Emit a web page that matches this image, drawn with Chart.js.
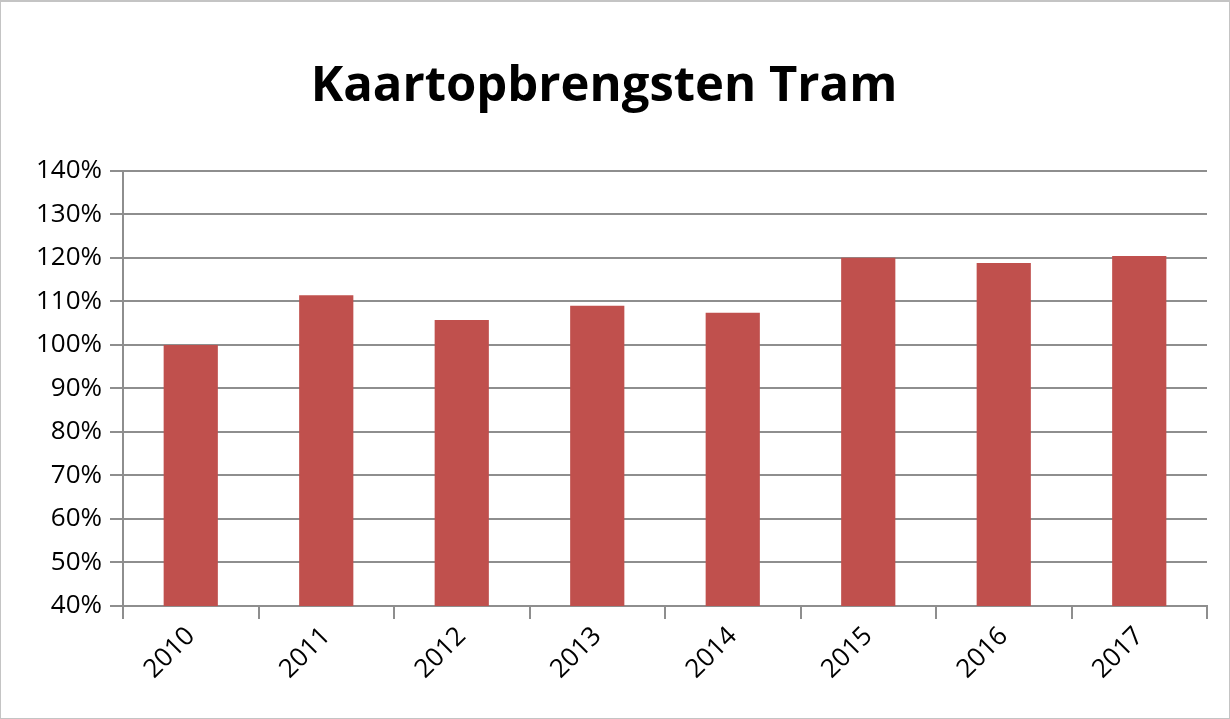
<!DOCTYPE html>
<html>
<head>
<meta charset="utf-8">
<script src="https://cdn.jsdelivr.net/npm/chart.js@4"></script>
<style>
  body { margin: 0; background: #fff; }
  #wrap { width: 1230px; height: 719px; box-sizing: border-box; border: 1px solid #c4c4c4; border-top-width: 2px; position: relative; }
</style>
</head>
<body>
<div id="wrap"><canvas id="chart"></canvas></div>
<script>
// Data
const years = ['2010', '2011', '2012', '2013', '2014', '2015', '2016', '2017'];
const revenue = [100, 111.4, 105.7, 109, 107.4, 120, 118.8, 120.4];
const yTicks = [40, 50, 60, 70, 80, 90, 100, 110, 120, 130, 140];

const fontFam = "'Open Sans', 'Liberation Sans', sans-serif";
const gridColor = '#8e8e8e';

new Chart(document.getElementById('chart'), {
    type: 'bar',
    data: {
        labels: years,
        datasets: [{
            label: 'Kaartopbrengsten Tram',
            data: revenue,
            backgroundColor: '#c0504d',
            barPercentage: 0.4,
            categoryPercentage: 1
        }]
    },
    options: {
        responsive: true,
        maintainAspectRatio: false,
        animation: false,
        layout: { padding: { left: 0, right: 22, top: 0, bottom: 0 } },
        plugins: {
            legend: { display: false },
            tooltip: { enabled: false },
            title: {
                display: true,
                text: 'Kaartopbrengsten Tram',
                color: '#000',
                font: { family: fontFam, size: 49, weight: 'bold' },
                padding: { top: 56, bottom: 54 }
            }
        },
        scales: {
            y: {
                min: yTicks[0],
                max: yTicks[yTicks.length - 1],
                afterBuildTicks: (s) => { s.ticks = yTicks.map(v => ({ value: v })); },
                afterFit: (s) => { s.width = 122; },
                ticks: {
                    color: '#000',
                    font: { family: fontFam, size: 26 },
                    padding: 8,
                    callback: v => v + '%'
                },
                grid: { color: gridColor, lineWidth: 2, tickLength: 13 },
                border: { color: gridColor, width: 2 }
            },
            x: {
                afterFit: (s) => { s.height = 112; },
                ticks: {
                    color: '#000',
                    font: { family: fontFam, size: 26 },
                    minRotation: 45,
                    maxRotation: 45,
                    padding: 2
                },
                grid: { drawOnChartArea: false, color: gridColor, lineWidth: 2, tickLength: 13, offset: true },
                border: { color: gridColor, width: 2 }
            }
        }
    }
});
</script>
</body>
</html>
